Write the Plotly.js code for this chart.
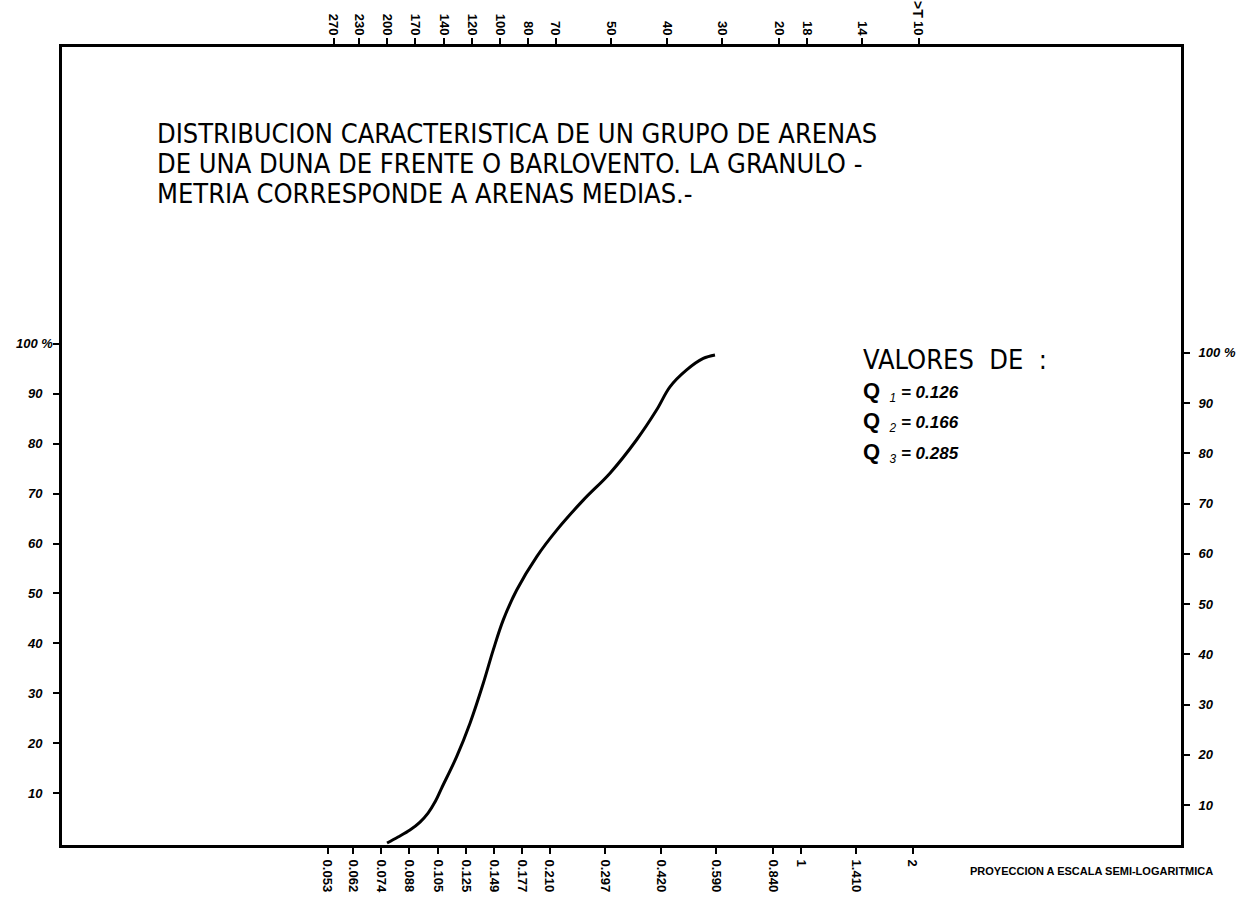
<!DOCTYPE html>
<html>
<head>
<meta charset="utf-8">
<script src="https://cdn.plot.ly/plotly-3.0.1.min.js"></script>
<style>html,body{margin:0;padding:0;background:#fff;}#chart{width:1247px;height:909px;}</style>
</head>
<body>
<div id="chart"></div>
<script>
// Grain size (mm) and cumulative percentage
const grainSize = [0.0766, 0.0820, 0.0883, 0.0940, 0.0988, 0.1035, 0.1075, 0.1180, 0.1282, 0.1392, 0.1481, 0.1576, 0.1713, 0.1940, 0.2196, 0.2589, 0.3056, 0.3606, 0.4084, 0.4434, 0.4918, 0.5452, 0.5864];
const cumPercent = [0, 1.2, 2.6, 4.2, 6, 8.4, 11, 17.3, 24, 32, 38.7, 44.7, 50.7, 57.4, 62.7, 68.7, 74.1, 80.8, 86.8, 91.4, 94.8, 97.1, 97.8];

// Bottom axis: sieve openings (mm)
const sieveMm = [0.053, 0.062, 0.074, 0.088, 0.105, 0.125, 0.149, 0.177, 0.210, 0.297, 0.420, 0.590, 0.840, 1, 1.410, 2];
const sieveMmLabels = ["0.053", "0.062", "0.074", "0.088", "0.105", "0.125", "0.149", "0.177", "0.210", "0.297", "0.420", "0.590", "0.840", "1", "1.410", "2"];
// Top axis: mesh numbers
const meshLabels = ["270", "230", "200", "170", "140", "120", "100", "80", "70", "50", "40", "30", "20", "18", "14", "10"];

// Percent axis
const pctVals = [10, 20, 30, 40, 50, 60, 70, 80, 90, 100];
const pctLabelsLeft = ["10", "20", "30", "40", "50", "60", "70", "80", "90", ""];
const pctLabelsRight = ["10", "20", "30", "40", "50", "60", "70", "80", "90", "100 %"];
const pctTopLabel = "100 %";

const titleLines = [
  "DISTRIBUCION CARACTERISTICA DE UN GRUPO DE ARENAS",
  "DE UNA DUNA DE FRENTE O BARLOVENTO. LA GRANULO -",
  "METRIA CORRESPONDE A ARENAS MEDIAS.-"
];
const qNames = ["1", "2", "3"];
const qValues = ["0.126", "0.166", "0.285"];

// pixel helpers (plot area: x 62..1181, y 47..845)
const L = 62, R = 1181, T = 47, B = 845;
const px = x => (x - L) / (R - L);
const py = y => (B - y) / (B - T);

const FAM = "Liberation Sans, Arial, sans-serif";
const NARROW = "Liberation Sans Narrow, DejaVu Sans Condensed, Liberation Sans, sans-serif";
const tickFont = {family: FAM, size: 13, color: "#000", weight: "bold", style: "italic"};
const axisTickFont = {family: FAM, size: 13, color: "#000", weight: "bold"};

const annotations = [];
const lineY = [133, 163, 193];
titleLines.forEach((t, i) => {
  annotations.push({text: t, xref: "paper", yref: "paper", x: px(155), y: py(lineY[i]), xanchor: "left", yanchor: "middle",
    showarrow: false, font: {family: NARROW, size: 27, color: "#000"}});
});
annotations.push({text: "VALORES  DE  :", xref: "paper", yref: "paper", x: px(861), y: py(360), xanchor: "left", yanchor: "middle",
  showarrow: false, font: {family: NARROW, size: 27, color: "#000"}});
const qY = [391, 421, 452];
qNames.forEach((q, i) => {
  annotations.push({text: "<b><span style=\"font-size:22px\">Q</span></b>  <sub><i>" + q + "</i></sub> <b><i>= " + qValues[i] + "</i></b>",
    xref: "paper", yref: "paper", x: px(861), y: py(qY[i]), xanchor: "left", yanchor: "middle", showarrow: false,
    font: {family: FAM, size: 17, color: "#000"}});
});
annotations.push({text: "<b>PROYECCION A ESCALA SEMI-LOGARITMICA</b>", xref: "paper", yref: "paper", x: px(1215), y: py(871),
  xanchor: "right", yanchor: "middle", showarrow: false, font: {family: FAM, size: 11, color: "#000"}});
annotations.push({text: "<b>&gt;T</b>", xref: "paper", yref: "paper", x: px(918), y: py(9), xanchor: "center", yanchor: "middle",
  textangle: 90, showarrow: false, font: {family: FAM, size: 14, color: "#000"}});
annotations.push({text: "<b><i>" + pctTopLabel + "</i></b>", xref: "paper", yref: "y", x: px(55), y: 100, xanchor: "right", yanchor: "middle",
  showarrow: false, font: {family: FAM, size: 13, color: "#000"}});

const traces = [
  {x: grainSize, y: cumPercent, xaxis: "x", yaxis: "y", mode: "lines", type: "scatter",
   line: {color: "#000", width: 3, shape: "spline", smoothing: 1}, hoverinfo: "x+y", showlegend: false},
  {x: grainSize, y: cumPercent, xaxis: "x2", yaxis: "y2", mode: "lines", type: "scatter",
   line: {color: "rgba(0,0,0,0)", width: 0}, hoverinfo: "skip", showlegend: false}
];

const baseAxis = {showgrid: false, zeroline: false, showline: true, linecolor: "#000", linewidth: 3,
  ticks: "outside", tickcolor: "#000", tickwidth: 2, ticklen: 6, fixedrange: true};

const layout = {
  width: 1247, height: 909,
  margin: {l: L, r: 1247 - R, t: T, b: 909 - B, pad: 0},
  paper_bgcolor: "#fff", plot_bgcolor: "#fff",
  showlegend: false,
  xaxis: Object.assign({}, baseAxis, {type: "log", range: [-1.9919, 1.0243], tickmode: "array",
    tickvals: sieveMm, ticktext: sieveMmLabels, tickangle: 90, tickfont: axisTickFont, side: "bottom", anchor: "y", ticklabelstandoff: 3}),
  xaxis2: Object.assign({}, baseAxis, {type: "log", range: [-2.0081, 1.0081], tickmode: "array",
    tickvals: sieveMm, ticktext: meshLabels, tickangle: 90, tickfont: axisTickFont, side: "top", overlaying: "x", anchor: "y", ticklabelstandoff: -2}),
  yaxis: Object.assign({}, baseAxis, {range: [-0.4, 159.5], tickmode: "array", tickvals: pctVals, ticktext: pctLabelsLeft,
    tickfont: tickFont, side: "left", anchor: "x", ticklabelstandoff: 8}),
  yaxis2: Object.assign({}, baseAxis, {range: [2.03, 160.9], tickmode: "array", tickvals: pctVals, ticktext: pctLabelsRight,
    tickfont: tickFont, side: "right", overlaying: "y", anchor: "x", ticklabelstandoff: 6}),
  annotations: annotations
};

Plotly.newPlot("chart", traces, layout, {displayModeBar: false, staticPlot: true});
</script>
</body>
</html>
